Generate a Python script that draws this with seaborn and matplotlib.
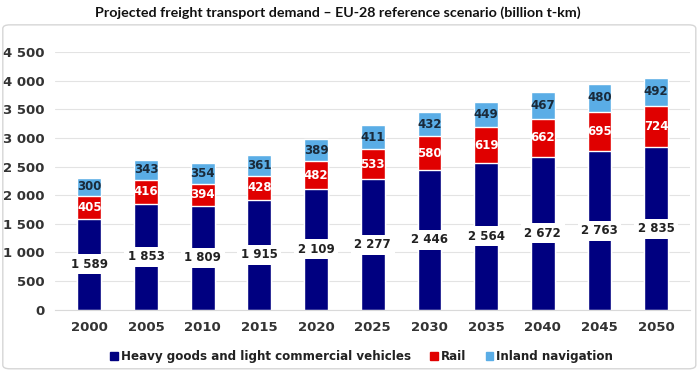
import numpy as np
import pandas as pd
import matplotlib.pyplot as plt
import seaborn as sns
from matplotlib.patches import FancyBboxPatch

# data (billion t-km)
years = ["2000", "2005", "2010", "2015", "2020", "2025", "2030", "2035", "2040", "2045", "2050"]
road = [1589, 1853, 1809, 1915, 2109, 2277, 2446, 2564, 2672, 2763, 2835]
rail = [405, 416, 394, 428, 482, 533, 580, 619, 662, 695, 724]
inland = [300, 343, 354, 361, 389, 411, 432, 449, 467, 480, 492]
series = ["Heavy goods and light commercial vehicles", "Rail", "Inland navigation"]
colors = ["#000080", "#E00000", "#5AADE6"]

df = pd.DataFrame({"year": years, "road": road, "rail": rail, "inland": inland})
df["road_rail"] = df["road"] + df["rail"]
df["total"] = df["road_rail"] + df["inland"]

sns.set_style("white")
plt.rcParams["font.family"] = ["DejaVu Sans"]

fig = plt.figure(figsize=(7, 3.71), dpi=100)
ax = fig.add_axes([0.079, 0.165, 0.907, 0.695])

# stacked bars: draw cumulative totals from the top down
bw = 0.42
sns.barplot(data=df, x="year", y="total", color=colors[2], width=bw, saturation=1, ax=ax)
sns.barplot(data=df, x="year", y="road_rail", color=colors[1], width=bw, saturation=1, ax=ax)
sns.barplot(data=df, x="year", y="road", color=colors[0], width=bw, saturation=1, ax=ax)

# value labels
for i, r in df.iterrows():
    ax.text(i, r["road"] / 2, f"{r['road']:,}".replace(",", " "), ha="center", va="center",
            fontsize=8.5, fontweight="bold", color="#222222",
            bbox=dict(boxstyle="square,pad=0.3", fc="white", ec="none"))
    ax.text(i, r["road"] + r["rail"] / 2, str(r["rail"]), ha="center", va="center",
            fontsize=8.5, fontweight="bold", color="white")
    ax.text(i, r["road_rail"] + r["inland"] / 2, str(r["inland"]), ha="center", va="center",
            fontsize=8.5, fontweight="bold", color="#1a2a3a")

ax.set_ylim(0, 4500)
ax.set_xlim(-0.6, 10.6)
ax.set_yticks(np.arange(0, 4501, 500))
ax.set_yticklabels([f"{v:,}".replace(",", " ") for v in range(0, 4501, 500)])
ax.yaxis.grid(True, color="#e3e3e3", linewidth=0.8)
ax.set_axisbelow(True)
for s in ["top", "right", "left"]:
    ax.spines[s].set_visible(False)
ax.spines["bottom"].set_color("#d9d9d9")
ax.tick_params(axis="both", length=0, labelsize=9.5, colors="#333333", pad=8)
for lab in ax.get_xticklabels() + ax.get_yticklabels():
    lab.set_fontweight("bold")
ax.set_xlabel("")
ax.set_ylabel("")

fig.text(0.482, 0.966, "Projected freight transport demand \u2013 EU-28 reference scenario (billion t-km)",
         ha="center", va="center", fontsize=10.3, fontweight="bold", color="#111111",
         family=["Lato", "DejaVu Sans"])

handles = [plt.Rectangle((0, 0), 1, 1, color=c) for c in colors]
leg = fig.legend(handles, series, loc="center", bbox_to_anchor=(0.517, 0.038), ncol=3, frameon=False,
                 handlelength=0.6, handleheight=0.6, handletextpad=0.3, columnspacing=1.6,
                 prop={"size": 8.6, "weight": "bold"})
for t in leg.get_texts():
    t.set_color("#222222")

# light rounded frame around the chart
fig.patches.append(FancyBboxPatch((0.004, 0.006), 0.99, 0.927, boxstyle="round,pad=0,rounding_size=0.01",
                                  transform=fig.transFigure, fc="none", ec="#d6d6d6", lw=1))

fig.savefig("out.png", dpi=100)
